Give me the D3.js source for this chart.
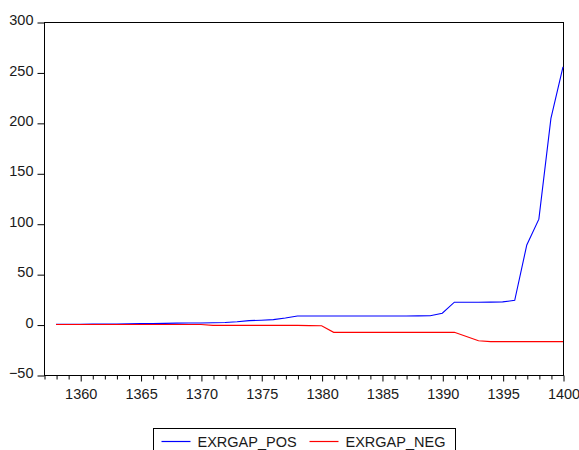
<!DOCTYPE html>
<html>
<head>
<meta charset="utf-8">
<script src="https://cdn.jsdelivr.net/npm/d3@7"></script>
<style>
  body { margin: 0; background: #fff; }
  svg { display: block; font-family: "Liberation Sans", Arial, sans-serif; }
</style>
</head>
<body>
<svg id="chart" width="579" height="450"></svg>
<script>

// years on the x axis
var years = [ 1358, 1359, 1360, 1361, 1362, 1363, 1364, 1365, 1366, 1367,
	1368, 1369, 1370, 1371, 1372, 1373, 1374, 1375, 1376, 1377,
	1378, 1379, 1380, 1381, 1382, 1383, 1384, 1385, 1386, 1387,
	1388, 1389, 1390, 1391, 1392, 1393, 1394, 1395, 1396, 1397,
	1398, 1399, 1400 ];

// EXRGAP_POS
var posValues = [ 0.2, 0.2, 0.3, 0.4, 0.5, 0.6, 0.8, 0.9, 1.1, 1.2,
	1.4, 1.5, 1.6, 1.8, 2.0, 2.8, 3.9, 4.3, 4.9, 6.5,
	8.5, 8.5, 8.5, 8.5, 8.5, 8.5, 8.5, 8.5, 8.5, 8.5,
	8.6, 8.8, 11.2, 22.2, 22.2, 22.2, 22.3, 22.5, 24.0, 79,
	104.5, 204.5, 255.5 ];

// EXRGAP_NEG
var negValues = [ 0.1, 0.1, 0.1, 0.1, 0.1, 0.1, 0.1, 0.1, 0.1, 0.1,
	0.1, 0.1, 0.1, -0.8, -0.8, -0.8, -0.8, -0.8, -0.8, -0.8,
	-0.8, -1.0, -1.2, -7.7, -7.7, -7.7, -7.7, -7.7, -7.7, -7.7,
	-7.7, -7.7, -7.7, -7.7, -11.8, -16.0, -16.9, -16.9, -16.9, -16.9,
	-16.9, -16.9, -16.9 ];

var yTicks = [ -50, 0, 50, 100, 150, 200, 250, 300 ];
var xLabelTicks = [ 1360, 1365, 1370, 1375, 1380, 1385, 1390, 1395, 1400 ];

var seriesNames = [ 'EXRGAP_POS', 'EXRGAP_NEG' ];
var seriesColors = [ '#0000ff', '#ff0000' ];


var svg = d3.select( '#chart' ),
	margin = { top: 22, right: 16, bottom: 75, left: 44 },
	width = 579 - margin.left - margin.right,
	height = 450 - margin.top - margin.bottom;

var x = d3.scaleLinear().domain( [ 1357, 1400 ] ).range( [ 0, width ] );
var y = d3.scaleLinear().domain( [ -50, 300 ] ).range( [ height, 0 ] );

var g = svg.append( 'g' )
	.attr( 'transform', 'translate(' + margin.left + ',' + margin.top + ')' );

// frame
g.append( 'rect' )
	.attr( 'x', 0.5 ).attr( 'y', 0.5 )
	.attr( 'width', width ).attr( 'height', height )
	.attr( 'fill', 'none' )
	.attr( 'stroke', '#000' );

// y axis
var yAxis = g.append( 'g' )
	.attr( 'transform', 'translate(0.5,0.5)' )
	.call( d3.axisLeft( y ).tickValues( yTicks ).tickSize( 7 ).tickPadding( 4 ) );
yAxis.selectAll( 'text' ).attr( 'dy', '0.15em' );

// x axis, one tick per year, labels every five
var xAxis = g.append( 'g' )
	.attr( 'transform', 'translate(0.5,' + ( height + 0.5 ) + ')' )
	.call( d3.axisBottom( x )
		.tickValues( d3.range( 1357, 1401 ) )
		.tickSize( 6 )
		.tickPadding( 7 )
		.tickFormat( function( d ) { return xLabelTicks.indexOf( d ) >= 0 ? d : ''; } ) );

// minor year ticks are shorter than the labelled ones
xAxis.selectAll( '.tick line' )
	.attr( 'y2', function( d ) { return xLabelTicks.indexOf( d ) >= 0 ? 6 : 4; } );

[ yAxis, xAxis ].forEach( function( a ) {
	a.select( '.domain' ).remove();
	a.selectAll( 'line' ).attr( 'stroke', '#000' );
	a.selectAll( 'text' )
		.attr( 'fill', '#1a1a1a' )
		.style( 'font-size', '14.5px' )
		.style( 'font-family', '"Liberation Sans", Arial, sans-serif' );
} );

// lines
var line = d3.line()
	.x( function( d, i ) { return x( years[ i ] ); } )
	.y( function( d ) { return y( d ); } );

[ posValues, negValues ].forEach( function( vals, k ) {
	g.append( 'path' )
		.datum( vals )
		.attr( 'fill', 'none' )
		.attr( 'stroke', seriesColors[ k ] )
		.attr( 'stroke-width', 1.1 )
		.attr( 'd', line );
} );

// legend
var legend = svg.append( 'g' ).attr( 'transform', 'translate(153.5,428.5)' );

legend.append( 'rect' )
	.attr( 'width', 302 ).attr( 'height', 30 )
	.attr( 'fill', '#fff' )
	.attr( 'stroke', '#000' );

var legendX = [ 8, 156 ];
seriesNames.forEach( function( name, k ) {
	legend.append( 'line' )
		.attr( 'x1', legendX[ k ] ).attr( 'x2', legendX[ k ] + 29 )
		.attr( 'y1', 13 ).attr( 'y2', 13 )
		.attr( 'stroke', seriesColors[ k ] )
		.attr( 'stroke-width', 1.2 );
	legend.append( 'text' )
		.attr( 'x', legendX[ k ] + 36 )
		.attr( 'y', 18 )
		.attr( 'fill', '#1a1a1a' )
		.style( 'font-size', '14.5px' )
		.text( name );
} );

</script>
</body>
</html>
